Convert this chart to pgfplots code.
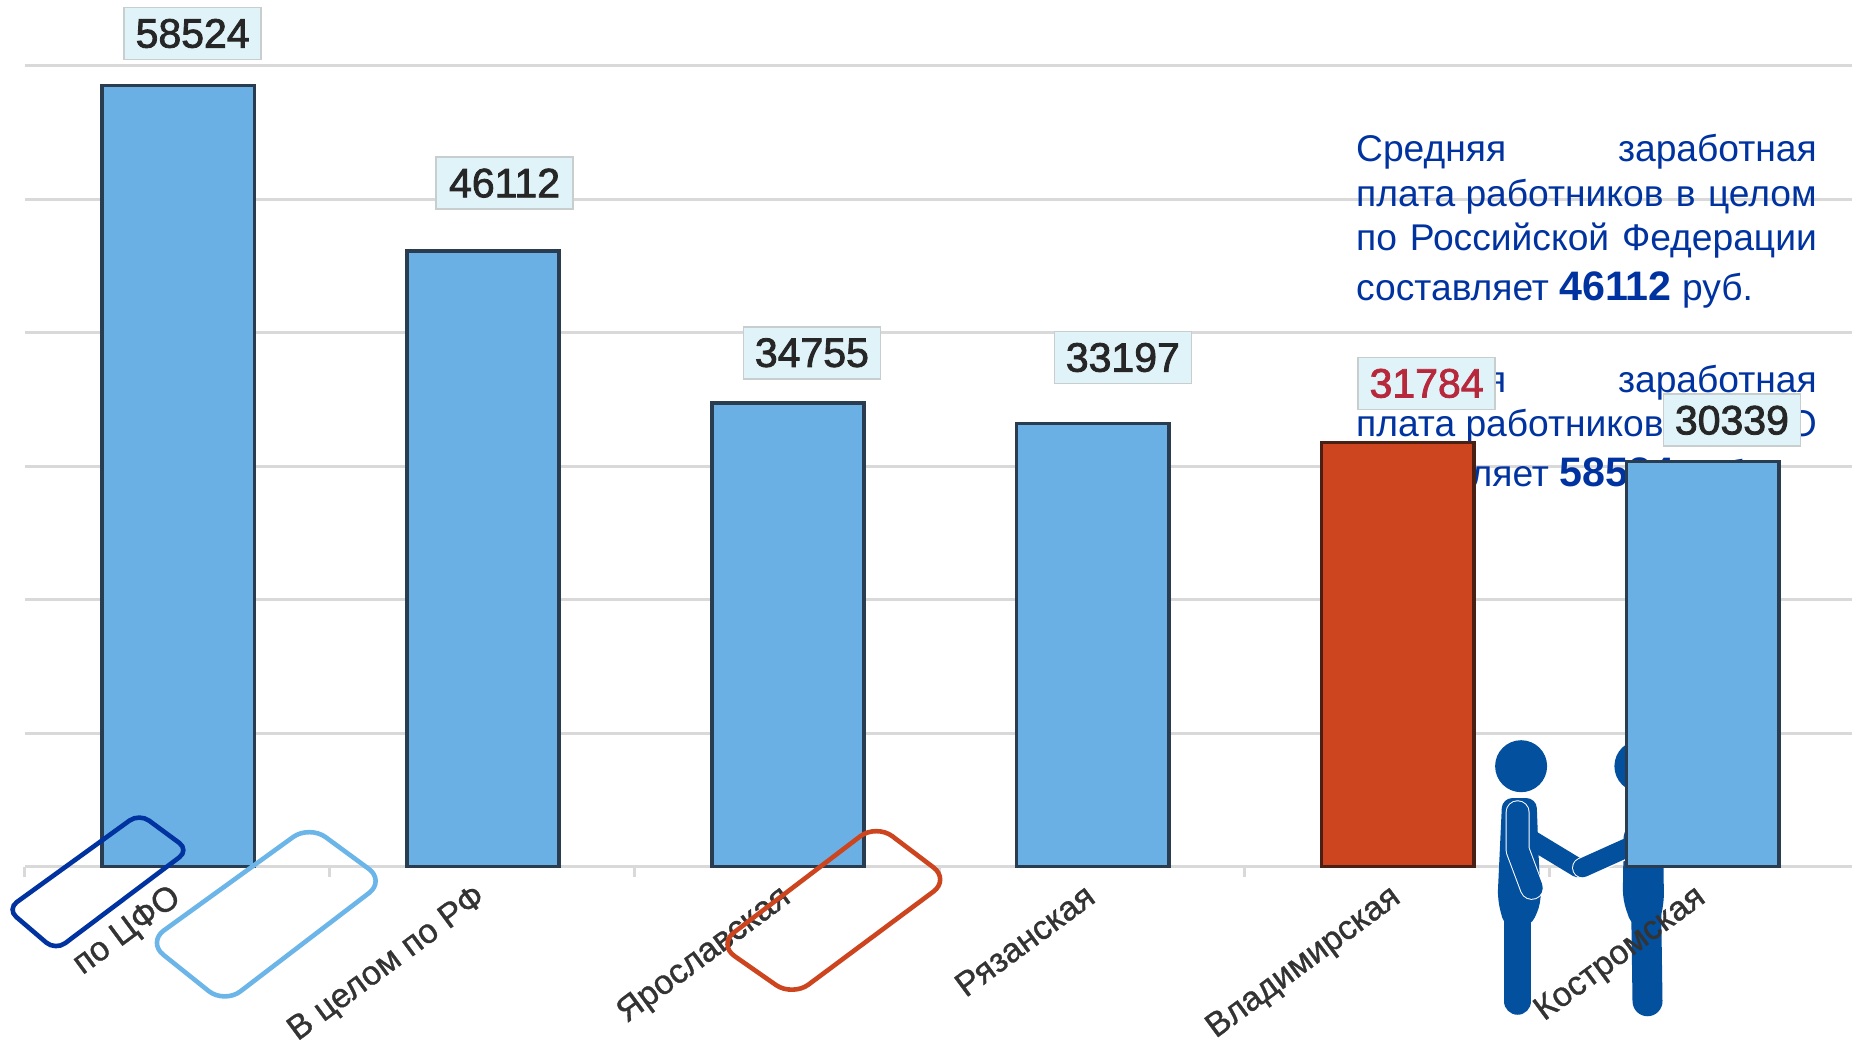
\documentclass[border=0pt]{standalone}
\usepackage{fontspec}
\setmainfont{Liberation Sans}
\newfontfamily\lblfont[FakeBold=1]{Liberation Sans}
\newfontfamily\valfont[FakeBold=2]{Liberation Sans}
\usepackage{pgfplots}
\usepackage{pgfplotstable}
\pgfplotsset{compat=1.18}
\definecolor{barblue}{RGB}{106,176,228}
\definecolor{baredge}{RGB}{42,60,80}
\definecolor{barred}{RGB}{204,69,30}
\definecolor{rededge}{RGB}{74,32,21}
\definecolor{gridgray}{RGB}{217,217,217}
\definecolor{txtblue}{RGB}{0,51,160}
\definecolor{figblue}{RGB}{3,80,159}
\definecolor{lightrect}{RGB}{108,181,232}
\definecolor{boxfill}{RGB}{224,243,248}
\definecolor{boxedge}{RGB}{200,205,205}
\definecolor{lblred}{RGB}{184,40,60}

% offx, offy: offset of the value box from the top of the bar, in pt
\pgfplotstableread{
x y offx offy
0 58524 7.7 26
1 46112 11.2 34
2 34755 12.4 25
3 33197 15.4 33
5 30339 15 20.7
}\bluedata
\pgfplotstableread{
x y offx offy
4 31784 14.8 29.5
}\reddata

% tick labels above the plots, so they stay readable over the figure
\pgfplotsset{
    layers/labels on top/.define layer set={
        axis background,axis grid,axis ticks,axis lines,main,axis tick labels,axis descriptions,axis foreground
    }{
        grid style={/pgfplots/on layer=axis grid},
        tick style={/pgfplots/on layer=axis ticks},
        axis line style={/pgfplots/on layer=axis lines},
        ticklabel style={/pgfplots/on layer=axis tick labels},
    }
}

% position in pixels of a 1568 wide view of the picture
\newcommand{\Pt}[2]{(axis cs:{(#1-21)/258.2-0.5},{(734-#2)*88.5})}
\newcommand{\txtline}[3]{\node[anchor=base west,inner sep=0pt,text=txtblue,font=\fontsize{18.6}{22}\selectfont] at \Pt{#1}{#2} {#3};}

\begin{document}
\begin{tikzpicture}
\begin{axis}[
    set layers=labels on top,
    at={(12.4pt,89.2pt)},
    anchor=south west,
    scale only axis,
    width=914.8pt,
    height=400.4pt,
    clip=false,
    xmin=-0.5, xmax=5.5,
    ymin=0, ymax=60000,
    scaled y ticks=false,
    axis y line=left,
    y axis line style={draw=none},
    axis x line=bottom,
    x axis line style={-,draw=gridgray,line width=1.5pt},
    xtick={0,1,2,3,4,5},
    xticklabels={по ЦФО,В целом по РФ,Ярославская,Рязанская,Владимирская,Костромская},
    minor xtick={-0.5,0.5,1.5,2.5,3.5,4.5},
    major x tick style={draw=none},
    minor x tick style={draw=gridgray,line width=1.5pt},
    minor tick length=5pt,
    tick align=outside,
    x tick label style={
        rotate=36.5,anchor=north east,font=\lblfont\fontsize{17}{20}\selectfont,
        text=black!80,xshift=-5.5pt,yshift=0pt,inner sep=0pt
    },
    ytick={0,10000,20000,30000,40000,50000,60000},
    yticklabels={},
    major y tick style={draw=none},
    ymajorgrids,
    y grid style={draw=gridgray,line width=1.5pt},
    barry/.style={
        ybar,bar width=0.5,bar shift=0.4pt,
        point meta=y,
        visualization depends on={\thisrow{offx} \as \offx},
        visualization depends on={\thisrow{offy} \as \offy},
        nodes near coords={\pgfmathprintnumber[assume math mode=true,fixed,precision=0,1000 sep={}]{\pgfplotspointmeta}},
        every node near coord/.append style={
            anchor=center,xshift=\offx pt,yshift=\offy pt,
            fill=boxfill,draw=boxedge,line width=0.8pt,
            minimum width=68.5pt,minimum height=26pt,inner sep=0pt,
            font=\valfont\fontsize{20.5}{24}\selectfont
        }
    }
]
% text goes under the bars
\txtline{1148}{137}{\hbox to 230.3pt{Средняя\hfill заработная}}
\txtline{1148}{175}{\hbox to 230.3pt{плата работников\hfill в\hfill целом}}
\txtline{1148}{212}{\hbox to 230.3pt{по\hfill Российской\hfill Федерации}}
\txtline{1148}{255}{составляет {\bfseries\fontsize{20.6}{22}\selectfont 46112} руб.}
\txtline{1148}{333}{\hbox to 230.3pt{Средняя\hfill заработная}}
\txtline{1148}{370}{\hbox to 230.3pt{плата работников\hfill в\hfill ЦФО}}
\txtline{1148}{412}{составляет {\bfseries\fontsize{20.6}{22}\selectfont 58524} руб.}

% the two men shaking hands
\fill[figblue] \Pt{1288}{649} circle[radius=13pt];
\fill[figblue] \Pt{1389}{649} circle[radius=13pt];
\draw[figblue,line width=13.5pt,line cap=round] \Pt{1285}{775} -- \Pt{1285}{848};
\draw[figblue,line width=15pt,line cap=round] \Pt{1394}{775} -- \Pt{1395}{848};
\fill[figblue,rounded corners=5pt] \Pt{1272}{676} -- \Pt{1301}{676} -- \Pt{1303}{730} -- \Pt{1305}{765} -- \Pt{1296}{785} -- \Pt{1274}{785} -- \Pt{1268}{762} -- cycle;
\fill[figblue,rounded corners=5pt] \Pt{1375}{700} -- \Pt{1408}{700} -- \Pt{1409}{765} -- \Pt{1404}{785} -- \Pt{1382}{785} -- \Pt{1374}{762} -- cycle;
\draw[figblue,line width=9.5pt,line cap=round] \Pt{1298}{712} -- \Pt{1336}{735};
\draw[white,line width=10.5pt,line cap=round] \Pt{1340}{735} -- \Pt{1372}{721};
\draw[figblue,line width=9.5pt,line cap=round] \Pt{1340}{735} -- \Pt{1380}{717};
\draw[white,line width=12pt,line cap=round,line join=round] \Pt{1285}{688} -- \Pt{1285}{720} -- \Pt{1297}{752};
\draw[figblue,line width=11pt,line cap=round,line join=round] \Pt{1285}{688} -- \Pt{1285}{720} -- \Pt{1297}{752};

\addplot[barry,fill=barblue,draw=baredge,line width=1.8pt,
    nodes near coords style={text=black!85}] table[x=x,y=y] {\bluedata};
\addplot[barry,fill=barred,draw=rededge,line width=1.8pt,
    nodes near coords style={text=lblred}] table[x=x,y=y] {\reddata};

% legend frames, squeezed diagonals rather than true rectangles
\begin{pgfonlayer}{axis foreground}
\draw[txtblue,line width=2.3pt,rounded corners=6pt] \Pt{118}{689} -- \Pt{160}{720} -- \Pt{47}{805} -- \Pt{6}{770} -- cycle;
\draw[lightrect,line width=2.3pt,rounded corners=10pt] \Pt{262}{699} -- \Pt{326}{746} -- \Pt{190}{850} -- \Pt{125}{798} -- cycle;
\draw[barred,line width=2.3pt,rounded corners=10pt] \Pt{742}{698} -- \Pt{804}{745} -- \Pt{671}{844} -- \Pt{608}{800} -- cycle;
\end{pgfonlayer}
\end{axis}
\pgfresetboundingbox
\path[use as bounding box] (0,0) rectangle (926pt,522.5pt);
\end{tikzpicture}
\end{document}
